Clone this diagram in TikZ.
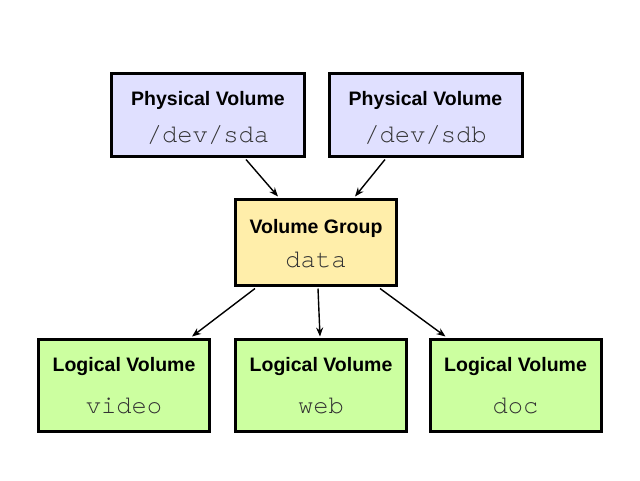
\documentclass[tikz,border=0pt]{standalone}
\usepackage{fontspec}
\setmainfont{Liberation Sans}
\newfontfamily\monof{TeX Gyre Cursor}
\usetikzlibrary{arrows.meta}
\definecolor{pvfill}{HTML}{E0E0FF}
\definecolor{vgfill}{HTML}{FFEEAA}
\definecolor{lvfill}{HTML}{CCFFA0}
\definecolor{monocol}{HTML}{333333}
\begin{document}
\begin{tikzpicture}[x=1pt,y=-1pt,
  box/.style={draw=black,line width=3pt,rectangle,inner sep=0pt},
  pvbox/.style={box,fill=pvfill,minimum width=193pt,minimum height=83pt},
  vgbox/.style={box,fill=vgfill,minimum width=161pt,minimum height=86pt},
  lvbox/.style={box,fill=lvfill,minimum width=171pt,minimum height=92pt},
  ttl/.style={anchor=base,inner sep=0pt,font=\fontsize{19.5}{21}\selectfont\bfseries},
  mono/.style={anchor=base,inner sep=0pt,text=monocol,font=\fontsize{25.5}{27}\selectfont\monof},
  arr/.style={line width=1.4pt,-{Stealth[length=9pt,width=7pt]}}
]
\useasboundingbox (0,0) rectangle (640,480);
\fill[white] (0,0) rectangle (640,480);

\node[pvbox] (pv1) at (208,115) {};
\node[pvbox] (pv2) at (425.5,115) {};
\node[vgbox] (vg) at (316,242.5) {};
\node[lvbox] (lv1) at (124,385.5) {};
\node[lvbox] (lv2) at (321,385.5) {};
\node[lvbox] (lv3) at (515.5,385.5) {};

\node[ttl] (pv1t) at (208,105.5) {Physical Volume};
\node[mono] (pv1m) at (208,142) {/dev/sda};
\node[ttl] (pv2t) at (425.5,105.5) {Physical Volume};
\node[mono] (pv2m) at (425.5,142) {/dev/sdb};
\node[ttl] (vgt) at (316,233.5) {Volume Group};
\node[mono] (vgm) at (316,267) {data};
\node[ttl] (lv1t) at (124,371.5) {Logical Volume};
\node[mono] (lv1m) at (124,413) {video};
\node[ttl] (lv2t) at (321,371.5) {Logical Volume};
\node[mono] (lv2m) at (321,413) {web};
\node[ttl] (lv3t) at (515.5,371.5) {Logical Volume};
\node[mono] (lv3m) at (515.5,413) {doc};

\draw[arr] ([xshift=38pt,yshift=-1.5pt]pv1.south) -- ([xshift=-38pt,yshift=1.5pt]vg.north);
\draw[arr] ([xshift=-40.5pt,yshift=-1.5pt]pv2.south) -- ([xshift=39pt,yshift=1.5pt]vg.north);
\draw[arr] ([xshift=-61pt,yshift=-1.5pt]vg.south) -- ([xshift=68pt,yshift=1.5pt]lv1.north);
\draw[arr] ([xshift=2pt,yshift=-1.5pt]vg.south) -- ([xshift=-1pt,yshift=1.5pt]lv2.north);
\draw[arr] ([xshift=64pt,yshift=-1.5pt]vg.south) -- ([xshift=-70pt,yshift=1.5pt]lv3.north);
\end{tikzpicture}
\end{document}
